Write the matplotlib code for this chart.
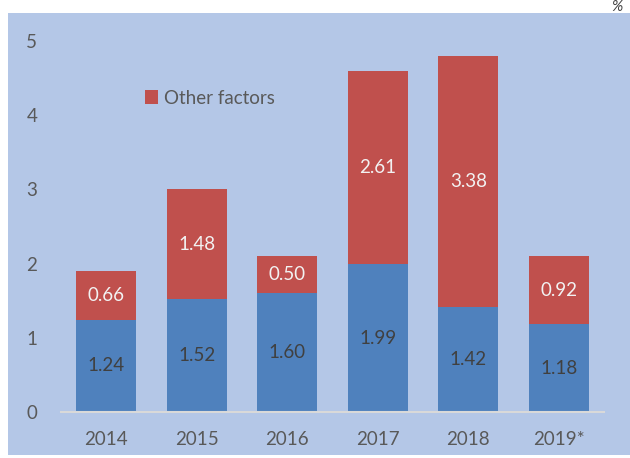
import matplotlib.pyplot as plt
from matplotlib.patches import Rectangle

# data
years = ['2014', '2015', '2016', '2017', '2018', '2019*']
base = [1.24, 1.52, 1.60, 1.99, 1.42, 1.18]
other = [0.66, 1.48, 0.50, 2.61, 3.38, 0.92]
yticks = [0, 1, 2, 3, 4, 5]

blue = '#4F81BD'
red = '#C0504D'
bg = '#B4C7E7'
grey = '#595959'

plt.rcParams['font.family'] = ['Lato', 'DejaVu Sans']

W, H = 630, 458
fig = plt.figure(figsize=(W / 100, H / 100), dpi=100)
fig.patch.set_facecolor('white')

# light blue chart area
fig.patches.append(Rectangle((8 / W, 3 / H), 1 - 8 / W, (455 - 13) / H,
                             transform=fig.transFigure, facecolor=bg,
                             edgecolor='none', zorder=-5))

ax = fig.add_axes([61 / W, (H - 412) / H, (604 - 61) / W, (412 - 41) / H])
ax.set_facecolor('none')
ax.set_zorder(2)

x = range(len(years))
ax.bar(x, base, width=0.66, color=blue, zorder=2)
ax.bar(x, other, width=0.66, bottom=base, color=red, zorder=2,
       label='Other factors')

for i in x:
    ax.text(i, base[i] / 2, f'{base[i]:.2f}', ha='center', va='center',
            fontsize=13.5, color='#404040', zorder=3)
    ax.text(i, base[i] + other[i] / 2, f'{other[i]:.2f}', ha='center',
            va='center', fontsize=13.5, color='#F2F2F2', zorder=3)

ax.set_xlim(-0.5, 5.5)
ax.set_ylim(0, 5)
ax.set_xticks(list(x))
ax.set_xticklabels(years)
ax.set_yticks(yticks)
ax.tick_params(length=0, labelsize=13.5, colors=grey)
ax.tick_params(axis='x', pad=14)
ax.tick_params(axis='y', pad=17)
for s in ['top', 'right', 'left']:
    ax.spines[s].set_visible(False)
ax.spines['bottom'].set_color('#D9D9D9')
ax.spines['bottom'].set_linewidth(1.5)

leg = ax.legend(loc='center left', frameon=False, fontsize=13.5,
                handlelength=0.7, handleheight=0.7, handletextpad=0.3,
                labelcolor=grey)
leg.set_bbox_to_anchor((128 / W, (H - 98) / H), transform=fig.transFigure)

fig.text(617 / W, 1.0, '%', ha='center', va='top', fontsize=11,
         color='#404040', style='italic')

fig.savefig('out.png', dpi=100)
